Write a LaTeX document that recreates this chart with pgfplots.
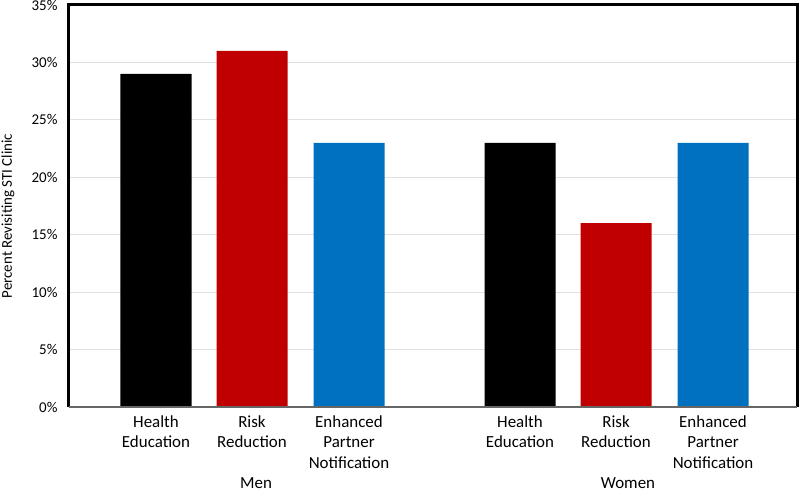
\documentclass[border=0pt]{standalone}
\usepackage{pgfplots}
\pgfplotsset{compat=1.18}
\usepackage{fontspec}
\setmainfont{Carlito}
\definecolor{cred}{HTML}{C00000}
\definecolor{cblue}{HTML}{0070C0}
\definecolor{cgrid}{HTML}{E0E0E0}
\begin{document}
\begin{tikzpicture}
\useasboundingbox (-69bp,-86bp) rectangle (731bp,407bp);
\begin{axis}[
  at={(0,0)}, anchor=south west,
  scale only axis, width=728bp, height=402bp,
  xmin=69, xmax=797, ymin=0, ymax=35,
  axis line style={draw=none},
  ytick={0,5,...,35},
  ymajorgrids, grid style={cgrid, line width=1.2bp},
  major tick length=0pt,
  /pgf/number format/assume math mode=true,
  yticklabel={\pgfmathprintnumber{\tick}\%},
  yticklabel style={font=\fontsize{15}{17}\selectfont, xshift=-8bp},
  xtick={156,252,349,520,616,713},
  xticklabels={Health\\Education, Risk\\Reduction, Enhanced\\Partner\\Notification, Health\\Education, Risk\\Reduction, Enhanced\\Partner\\Notification},
  xticklabel style={align=center, font=\fontsize{17}{20.5}\selectfont, yshift=-5bp},
  every axis y label/.style={at={(rel axis cs:0,0.475)}, xshift=-61bp, rotate=90, anchor=center, font=\fontsize{15}{17}\selectfont},
  ylabel={Percent Revisiting STI Clinic},
  clip=false,
]
\addplot[ybar, bar width=71, fill=black, draw=none] coordinates {(156,29) (520,23)};
\addplot[ybar, bar width=71, fill=cred, draw=none] coordinates {(252,31) (616,16)};
\addplot[ybar, bar width=71, fill=cblue, draw=none] coordinates {(349,23) (713,23)};
\draw[black, line width=3bp] (rel axis cs:0,0) -- (rel axis cs:0,1) -- (rel axis cs:1,1) -- (rel axis cs:1,0);
\draw[gray!80!black, line width=1.8bp] (rel axis cs:0,0) -- (rel axis cs:1,0);
\node[font=\fontsize{17}{20}\selectfont, anchor=base] at (axis cs:256,0) [yshift=-81bp] {Men};
\node[font=\fontsize{17}{20}\selectfont, anchor=base] at (axis cs:628,0) [yshift=-81bp] {Women};
\end{axis}
\end{tikzpicture}
\end{document}
